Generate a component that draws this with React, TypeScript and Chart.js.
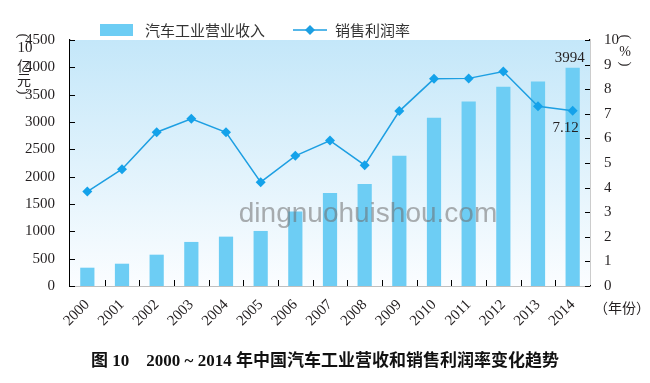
import React, { useEffect, useRef } from "react";
import { Chart, registerables } from "chart.js";

Chart.register(...registerables);

const years = ["2000", "2001", "2002", "2003", "2004", "2005", "2006", "2007", "2008", "2009", "2010", "2011", "2012", "2013", "2014"];
const revenue = [335, 408, 573, 806, 903, 1007, 1362, 1703, 1868, 2381, 3077, 3376, 3645, 3742, 3994];
const profitRate = [3.84, 4.75, 6.25, 6.8, 6.25, 4.22, 5.29, 5.91, 4.91, 7.11, 8.42, 8.44, 8.72, 7.31, 7.12];
const revenueLabel = "汽车工业营业收入";
const rateLabel = "销售利润率";
const caption = "图 10    2000 ~ 2014 年中国汽车工业营收和销售利润率变化趋势";
const watermark = "dingnuohuishou.com";

const BAR_COLOR = "#6dcdf4";
const LINE_COLOR = "#1d9fe2";
const TEXT = "#231f20";
const SERIF = "'Liberation Serif', 'Times New Roman', serif";
const CJK = "'Noto Sans CJK SC', sans-serif";

const decorPlugin = {
  id: "decor",
  beforeDatasetsDraw(chart: any) {
    const { ctx, chartArea: a } = chart;
    ctx.save();
    const g = ctx.createLinearGradient(0, a.top, 0, a.bottom);
    g.addColorStop(0, "#c4e7f9");
    g.addColorStop(1, "#fbfdff");
    ctx.fillStyle = g;
    ctx.fillRect(a.left, a.top, a.right - a.left, a.bottom - a.top);
    ctx.restore();
  },
  afterDraw(chart: any) {
    const { ctx, chartArea: a, scales } = chart;
    const xs = scales.x, yl = scales.y, yr = scales.y1;
    ctx.save();
    // inward tick marks
    ctx.strokeStyle = "#000";
    ctx.lineWidth = 1;
    ctx.beginPath();
    for (let i = 1; i < years.length; i++) {
      const x = Math.round((xs.getPixelForValue(i) + xs.getPixelForValue(i - 1)) / 2) + 0.5;
      ctx.moveTo(x, a.bottom);
      ctx.lineTo(x, a.bottom - 6);
    }
    yl.ticks.forEach((t: any) => {
      const y = Math.round(yl.getPixelForValue(t.value)) + 0.5;
      ctx.moveTo(a.left, y);
      ctx.lineTo(a.left + 5, y);
    });
    yr.ticks.forEach((t: any) => {
      const y = Math.round(yr.getPixelForValue(t.value)) + 0.5;
      ctx.moveTo(a.right, y);
      ctx.lineTo(a.right - 5, y);
    });
    ctx.stroke();

    // watermark
    ctx.fillStyle = "rgba(110,110,110,0.55)";
    ctx.font = "28px 'Liberation Sans', Arial, sans-serif";
    ctx.textAlign = "center";
    ctx.textBaseline = "middle";
    ctx.fillText(watermark, 368, 214);

    // data labels
    const n = years.length - 1;
    ctx.fillStyle = TEXT;
    ctx.font = "15px " + SERIF;
    ctx.textAlign = "center";
    ctx.textBaseline = "alphabetic";
    const bx = xs.getPixelForValue(n);
    ctx.fillText(String(revenue[n]), bx - 3, yl.getPixelForValue(revenue[n]) - 6);
    ctx.fillText(profitRate[n].toFixed(2), bx - 7, yr.getPixelForValue(profitRate[n]) + 21);

    // axis titles
    const rotParen = (ch: string, x: number, y: number) => {
      ctx.save();
      ctx.translate(x, y);
      ctx.rotate(Math.PI / 2);
      ctx.textAlign = "center";
      ctx.textBaseline = "middle";
      ctx.fillText(ch, 0, 0);
      ctx.restore();
    };
    ctx.textAlign = "center";
    ctx.font = "15px " + SERIF;
    ctx.textBaseline = "middle";
    rotParen("(", 23, 36);
    ctx.fillText("10", 25, 48);
    ctx.font = "14px " + CJK;
    ctx.fillText("亿", 24, 66);
    ctx.fillText("元", 24, 80);
    ctx.font = "15px " + SERIF;
    rotParen(")", 23, 92);

    rotParen("(", 625, 37);
    ctx.font = "14px " + SERIF;
    ctx.fillText("%", 625, 52);
    ctx.font = "15px " + SERIF;
    rotParen(")", 625, 64);

    ctx.font = "14px " + CJK;
    ctx.textAlign = "left";
    ctx.fillText("（年份）", 594, 308);

    // legend
    ctx.fillStyle = BAR_COLOR;
    ctx.fillRect(100, 24, 33, 12);
    ctx.fillStyle = "#333";
    ctx.font = "15px " + CJK;
    ctx.textAlign = "left";
    ctx.textBaseline = "middle";
    ctx.fillText(revenueLabel, 145, 30);
    ctx.strokeStyle = LINE_COLOR;
    ctx.lineWidth = 1.5;
    ctx.beginPath();
    ctx.moveTo(293, 30);
    ctx.lineTo(327, 30);
    ctx.stroke();
    ctx.fillStyle = LINE_COLOR;
    ctx.beginPath();
    ctx.moveTo(310, 25);
    ctx.lineTo(315, 30);
    ctx.lineTo(310, 35);
    ctx.lineTo(305, 30);
    ctx.closePath();
    ctx.fill();
    ctx.fillStyle = "#333";
    ctx.fillText(rateLabel, 335, 30);

    // caption
    ctx.fillStyle = "#111";
    ctx.font = "bold 17px " + SERIF + ", 'Noto Sans CJK SC'";
    ctx.textAlign = "center";
    ctx.fillText(caption, 325, 362);
    ctx.restore();
  },
};

export default function App() {
  const ref = useRef<HTMLCanvasElement | null>(null);
  useEffect(() => {
    if (!ref.current) return;
    const chart = new Chart(ref.current, {
      type: "bar",
      data: {
        labels: years,
        datasets: [
          {
            type: "line",
            label: rateLabel,
            data: profitRate,
            yAxisID: "y1",
            borderColor: LINE_COLOR,
            backgroundColor: LINE_COLOR,
            borderWidth: 1.5,
            pointStyle: "rectRot",
            pointRadius: 5,
            pointBorderWidth: 0,
            pointBackgroundColor: "#14a2ea",
            tension: 0,
            order: 0,
          } as any,
          {
            type: "bar",
            label: revenueLabel,
            data: revenue,
            yAxisID: "y",
            backgroundColor: BAR_COLOR,
            categoryPercentage: 1,
            barPercentage: 0.41,
            order: 1,
          },
        ],
      },
      options: {
        responsive: false,
        animation: false,
        layout: { padding: { top: 40, left: 0, right: 0, bottom: 0 } },
        plugins: { legend: { display: false }, tooltip: { enabled: false } },
        scales: {
          x: {
            offset: true,
            grid: { display: false },
            border: { display: true, color: "#000", width: 1.2 },
            ticks: { maxRotation: 45, minRotation: 45, color: TEXT, font: { family: SERIF, size: 15 }, padding: 2 },
            afterFit: (s: any) => { s.height = 97; },
          },
          y: {
            position: "left",
            min: 0,
            max: 4500,
            grid: { display: false },
            border: { display: true, color: "#000", width: 1.2 },
            ticks: { stepSize: 500, color: TEXT, font: { family: SERIF, size: 15 }, padding: 7, callback: (v: any) => String(v) },
            afterFit: (s: any) => { s.width = 70; },
          },
          y1: {
            position: "right",
            min: 0,
            max: 10,
            grid: { display: false },
            border: { display: true, color: "#000", width: 1.2 },
            ticks: { stepSize: 1, color: TEXT, font: { family: SERIF, size: 15 }, padding: 6, callback: (v: any) => String(v) },
            afterFit: (s: any) => { s.width = 60; },
          },
        },
      },
      plugins: [decorPlugin],
    });
    return () => chart.destroy();
  }, []);
  return (
    <div style={{ position: "absolute", left: 0, top: 0, width: 650, height: 383, background: "#fff" }}>
      <canvas ref={ref} width={650} height={383} style={{ display: "block" }} />
    </div>
  );
}
